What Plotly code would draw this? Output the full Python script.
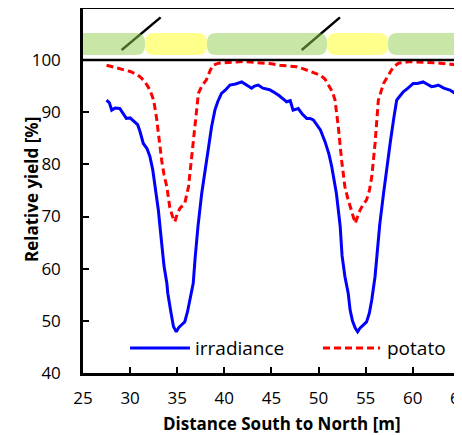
import plotly.graph_objects as go

# ---------------- data ----------------
irr_x = [27.5, 27.8, 28.05, 28.4, 28.9, 29.2, 29.6, 30.0, 30.5, 30.8, 31.05, 31.4, 31.8, 32.1, 32.4,
         32.6, 33.0, 33.35, 33.6, 33.9, 34.0, 34.3, 34.6, 34.9, 35.2, 35.5, 35.8, 36.1, 36.35, 36.7,
         36.9, 37.2, 37.6, 38.1, 38.65, 39.0, 39.3, 39.7, 40.1, 40.6, 41.2, 41.85, 42.3, 42.9, 43.2,
         43.6, 44.1, 44.8, 45.2, 45.8, 46.4, 46.6, 47.0, 47.3, 47.85, 48.3, 48.75, 49.1, 49.45, 49.8,
         50.2, 50.7, 51.1, 51.4, 51.9, 52.3, 52.5, 52.8, 53.15, 53.35, 53.6, 53.9, 54.15, 54.4, 54.6,
         55.1, 55.4, 55.65, 56.0, 56.2, 56.5, 56.9, 57.2, 57.6, 58.0, 58.3, 58.6, 59.0, 59.5, 60.05,
         60.5, 61.1, 61.5, 62.0, 62.4, 62.7, 63.3, 63.95, 64.6, 65.2]
irr_y = [92.3, 91.8, 90.4, 90.8, 90.7, 89.8, 88.8, 88.9, 88.2, 87.6, 86.3, 84.0, 83.0, 81.5, 79.0,
         76.4, 71.2, 64.9, 60.5, 57.2, 55.3, 52.0, 48.9, 47.9, 48.8, 49.3, 49.8, 51.8, 54.0, 57.2,
         62.0, 68.0, 74.4, 80.8, 87.2, 90.4, 92.0, 93.6, 94.2, 95.2, 95.4, 95.8, 95.3, 94.6, 95.0,
         95.2, 94.6, 94.3, 93.9, 93.2, 92.3, 92.0, 92.2, 90.4, 90.7, 89.6, 88.8, 88.8, 88.5, 87.7,
         86.6, 84.3, 82.0, 79.6, 74.4, 68.1, 62.5, 58.5, 55.3, 52.1, 50.0, 48.6, 47.9, 48.6, 48.9,
         49.8, 51.5, 54.0, 58.5, 62.5, 68.5, 74.4, 79.0, 84.0, 89.0, 92.3, 93.0, 93.9, 94.6, 95.5,
         95.5, 95.8, 95.4, 94.9, 95.0, 95.2, 94.6, 94.25, 93.5, 92.8]

pot_x = [27.5, 28.2, 28.9, 29.5, 30.0, 30.6, 31.05, 31.5, 31.9, 32.2, 32.5, 32.8, 33.0, 33.35, 33.6,
         33.9, 34.2, 34.5, 34.75, 35.0, 35.3, 35.8, 36.2, 36.5, 36.9, 37.25, 37.6, 38.1, 38.5, 38.8,
         39.4, 39.9, 41.0, 42.0, 43.0, 43.8, 45.0, 45.9, 46.8, 47.7, 48.4, 49.1, 49.7, 50.2, 50.7,
         51.2, 51.5, 51.75, 52.1, 52.45, 52.8, 53.1, 53.35, 53.6, 53.9, 54.15, 54.4, 54.7, 55.1, 55.4,
         55.65, 56.0, 56.35, 56.9, 57.3, 57.75, 58.1, 58.5, 59.7, 61.0, 62.0, 62.9, 64.0, 65.2]
pot_y = [99.0, 98.7, 98.4, 98.1, 97.8, 97.3, 96.8, 96.0, 94.9, 93.8, 92.3, 89.0, 85.9, 80.8, 78.0,
         75.7, 71.9, 70.0, 69.0, 70.5, 71.6, 72.5, 75.7, 80.8, 87.2, 93.6, 95.0, 96.2, 98.0, 99.0,
         99.4, 99.5, 99.6, 99.7, 99.6, 99.4, 99.3, 99.0, 98.9, 98.7, 98.3, 97.8, 97.5, 97.1, 96.3,
         94.9, 93.8, 92.3, 87.2, 80.8, 75.7, 73.5, 71.9, 70.5, 68.7, 70.0, 71.2, 72.2, 73.2, 75.0,
         77.6, 84.0, 92.3, 95.5, 96.8, 98.1, 98.9, 99.4, 99.7, 99.6, 99.5, 99.4, 99.2, 99.0]

# crop strips (start, end in m) and type
strip_start = [18.0, 31.58, 38.16, 50.90, 57.38]
strip_end = [31.58, 38.16, 50.90, 57.38, 70.0]
strip_crop = ["grass", "potato", "grass", "potato", "grass"]
strip_bottom, strip_top = 100.96, 105.18

# tilted PV panels (x from, x to, y from, y to)
panel_x0 = [29.1, 48.22]
panel_x1 = [33.24, 52.28]
panel_y0 = [101.92, 101.92]
panel_y1 = [108.18, 108.18]

x_ticks = [25, 30, 35, 40, 45, 50, 55, 60, 65]
y_ticks = [40, 50, 60, 70, 80, 90, 100]

FONT = "Open Sans"
OFF = 8  # page body margin
W, H = 462 - OFF, 435 - OFF
ML, MR, MT, MB = 83 - OFF, 0, 1, 435 - 373
X_RANGE = [25, 65.23]
Y_RANGE = [40, 109.78]

fig = go.Figure()

shapes = []
for a, b, c, d in zip(panel_x0, panel_x1, panel_y0, panel_y1):
    shapes.append(dict(type="line", xref="x", yref="y", x0=a, x1=b, y0=c, y1=d,
                       line=dict(color="black", width=2.5), layer="above"))

px_per_x = (W - ML - MR) / (X_RANGE[1] - X_RANGE[0])
px_per_y = (H - MT - MB) / (Y_RANGE[1] - Y_RANGE[0])
rx = 9 / px_per_x
ry = 9 / px_per_y
colors = {"grass": "rgba(146,208,80,0.5)", "potato": "rgba(255,255,0,0.45)"}
for s, e, c in zip(strip_start, strip_end, strip_crop):
    y0, y1 = strip_bottom, strip_top
    p = (f"M{s+rx},{y0} L{e-rx},{y0} Q{e},{y0} {e},{y0+ry} L{e},{y1-ry} Q{e},{y1} {e-rx},{y1} "
         f"L{s+rx},{y1} Q{s},{y1} {s},{y1-ry} L{s},{y0+ry} Q{s},{y0} {s+rx},{y0} Z")
    shapes.append(dict(type="path", xref="x", yref="y", path=p, fillcolor=colors[c],
                       line=dict(width=0), layer="above"))

shapes.append(dict(type="line", xref="paper", yref="y", x0=0, x1=1, y0=100, y1=100,
                   line=dict(color="black", width=2.5), layer="above"))

fig.add_trace(go.Scatter(x=irr_x, y=irr_y, mode="lines", name="irradiance",
                         line=dict(color="#0000FF", width=3)))
fig.add_trace(go.Scatter(x=pot_x, y=pot_y, mode="lines", name="potato",
                         line=dict(color="#FF0000", width=3, dash="7px,4px")))


def px2paper_x(px):
    return (px - OFF - ML) / (W - ML - MR)


def py2paper_y(py):
    return (H - MB - (py - OFF)) / (H - MT - MB)


ly = py2paper_y(348)
shapes.append(dict(type="line", xref="paper", yref="paper", x0=px2paper_x(130), x1=px2paper_x(190),
                   y0=ly, y1=ly, line=dict(color="#0000FF", width=3)))
shapes.append(dict(type="line", xref="paper", yref="paper", x0=px2paper_x(323), x1=px2paper_x(380),
                   y0=ly, y1=ly, line=dict(color="#FF0000", width=3, dash="7px,4px")))
annotations = [
    dict(text="irradiance", xref="paper", yref="paper", x=px2paper_x(193), y=ly, xanchor="left",
         yanchor="middle", showarrow=False, font=dict(family=FONT, size=19, color="black")),
    dict(text="potato", xref="paper", yref="paper", x=px2paper_x(385), y=ly, xanchor="left",
         yanchor="middle", showarrow=False, font=dict(family=FONT, size=19, color="black")),
    dict(text="<b>Distance South to North [m]</b>", xref="paper", yref="paper", x=px2paper_x(282),
         y=py2paper_y(423), xanchor="center", yanchor="middle", showarrow=False,
         font=dict(family=FONT, size=17, color="black")),
    dict(text="<b>Relative yield [%]</b>", xref="paper", yref="paper", x=px2paper_x(31),
         y=py2paper_y(190), xanchor="center", yanchor="middle", showarrow=False, textangle=-90,
         font=dict(family=FONT, size=17, color="black")),
]

fig.update_layout(
    width=W, height=H,
    margin=dict(l=ML, r=MR, t=MT, b=MB, pad=0),
    paper_bgcolor="white", plot_bgcolor="white",
    showlegend=False,
    shapes=shapes, annotations=annotations,
    font=dict(family=FONT, size=17, color="black"),
)
fig.update_xaxes(range=X_RANGE, tickmode="array", tickvals=x_ticks, ticks="inside", ticklen=6,
                 tickwidth=2, tickcolor="black", showline=True, linewidth=2.5, linecolor="black",
                 mirror=True, showgrid=False, zeroline=False, automargin=False,
                 ticklabeloverflow="allow",
                 tickfont=dict(family=FONT, size=17, color="black"), ticklabelstandoff=8)
fig.update_yaxes(range=Y_RANGE, tickmode="array", tickvals=y_ticks, ticks="inside", ticklen=6,
                 tickwidth=2, tickcolor="black", showline=True, linewidth=2.5, linecolor="black",
                 showgrid=False, zeroline=False, automargin=False,
                 tickfont=dict(family=FONT, size=17, color="black"), ticklabelstandoff=16)

fig.write_html("out.html")
